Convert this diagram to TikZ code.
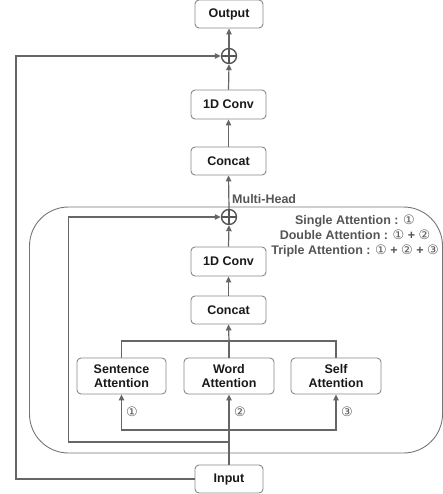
\documentclass[tikz,border=0pt]{standalone}
\usepackage{fontspec}
\setmainfont{Liberation Sans}
\newfontfamily\circfont{DejaVu Sans}
\usetikzlibrary{arrows.meta}
\definecolor{linec}{HTML}{666666}
\definecolor{boxc}{HTML}{888888}
\definecolor{labc}{HTML}{555555}
\begin{document}
\begin{tikzpicture}[x=1pt,y=-1pt,
  box/.style={draw=boxc, line width=0.9pt, rounded corners=4pt, fill=white,
    font=\bfseries\fontsize{12.5}{14.5}\selectfont, text=black!90, inner sep=0pt, align=center},
  conn/.style={draw=linec, line width=1.2pt},
  arr/.style={conn, -{Triangle[length=6pt,width=5.5pt]}},
  sumnode/.style={circle, draw=labc, line width=1.4pt, minimum size=15pt, inner sep=0pt,
    path picture={\draw[labc, line width=1.4pt]
      (path picture bounding box.north) -- (path picture bounding box.south)
      (path picture bounding box.west) -- (path picture bounding box.east);}},
  graylab/.style={font=\bfseries\fontsize{12.5}{15}\selectfont, text=labc, inner sep=0pt},
  numlab/.style={font=\circfont\fontsize{13}{15}\selectfont, text=labc, inner sep=0pt}
]
\useasboundingbox (0,0) rectangle (443,494);

% multi-head frame
\draw[draw=linec!90, line width=0.9pt, rounded corners=39pt] (29.5,207) rectangle (442.5,453);

% nodes
\node[box, minimum width=68pt, minimum height=28pt] (out) at (229,14) {Output};
\node[sumnode] (plusT) at (229,56) {};
\node[box, minimum width=75pt, minimum height=29pt] (conv1) at (228.5,104.5) {1D Conv};
\node[box, minimum width=75pt, minimum height=28pt] (cat1) at (228.5,161) {Concat};
\node[graylab, anchor=west] (mh) at (232,199) {Multi-Head};
\node[sumnode] (plusI) at (229,217) {};
\node[graylab, align=center] (legend) at (355,235.5)
  {Single Attention : {\circfont\mdseries\fontsize{13}{15}\selectfont ①}\\
   Double Attention : {\circfont\mdseries\fontsize{13}{15}\selectfont ①} + {\circfont\mdseries\fontsize{13}{15}\selectfont ②}\\
   Triple Attention : {\circfont\mdseries\fontsize{13}{15}\selectfont ①} + {\circfont\mdseries\fontsize{13}{15}\selectfont ②} + {\circfont\mdseries\fontsize{13}{15}\selectfont ③}};
\node[box, minimum width=75pt, minimum height=29pt] (conv2) at (228.5,261.5) {1D Conv};
\node[box, minimum width=75pt, minimum height=28pt] (cat2) at (228.5,310) {Concat};
\node[box, minimum width=89pt, minimum height=36pt] (att1) at (121.5,376) {Sentence\\Attention};
\node[box, minimum width=90pt, minimum height=36pt] (att2) at (229,376) {Word\\Attention};
\node[box, minimum width=90pt, minimum height=36pt] (att3) at (336,376) {Self\\Attention};
\node[numlab] (n1) at (132,412) {①};
\node[numlab] (n2) at (240,412) {②};
\node[numlab] (n3) at (347,412) {③};
\node[box, minimum width=68pt, minimum height=28pt] (inp) at (229,479) {Input};

% coordinates
\coordinate (br1) at (121.5,341);
\coordinate (br2) at (229,341);
\coordinate (br3) at (336,341);
\coordinate (d1) at (121.5,430);
\coordinate (d2) at (229,430);
\coordinate (d3) at (336,430);
\coordinate (lpB) at (229,442);
\coordinate (lpL) at (68.5,442);
\coordinate (lpT) at (68.5,217);
\coordinate (olB) at (16,479);
\coordinate (olT) at (16,56);

% connectors
\draw[arr] (inp.north) -- (att2.south);
\draw[arr] (d2) -- (d1) -- (att1.south);
\draw[arr] (d2) -- (d3) -- (att3.south);
\draw[arr] (lpB) -- (lpL) -- (lpT) -- (plusI.west);
\draw[conn] (att1.north) -- (br1) -- (br3) -- (att3.north);
\draw[conn] (att2.north) -- (br2);
\draw[arr] (br2) -- (cat2.south);
\draw[arr] (cat2.north) -- (conv2.south);
\draw[arr] (conv2.north) -- (plusI.south);
\draw[arr] (plusI.north) -- (cat1.south);
\draw[arr] (cat1.north) -- (conv1.south);
\draw[arr] (conv1.north) -- (plusT.south);
\draw[arr] (plusT.north) -- (out.south);
\draw[arr] (inp.west) -- (olB) -- (olT) -- (plusT.west);
\end{tikzpicture}
\end{document}
